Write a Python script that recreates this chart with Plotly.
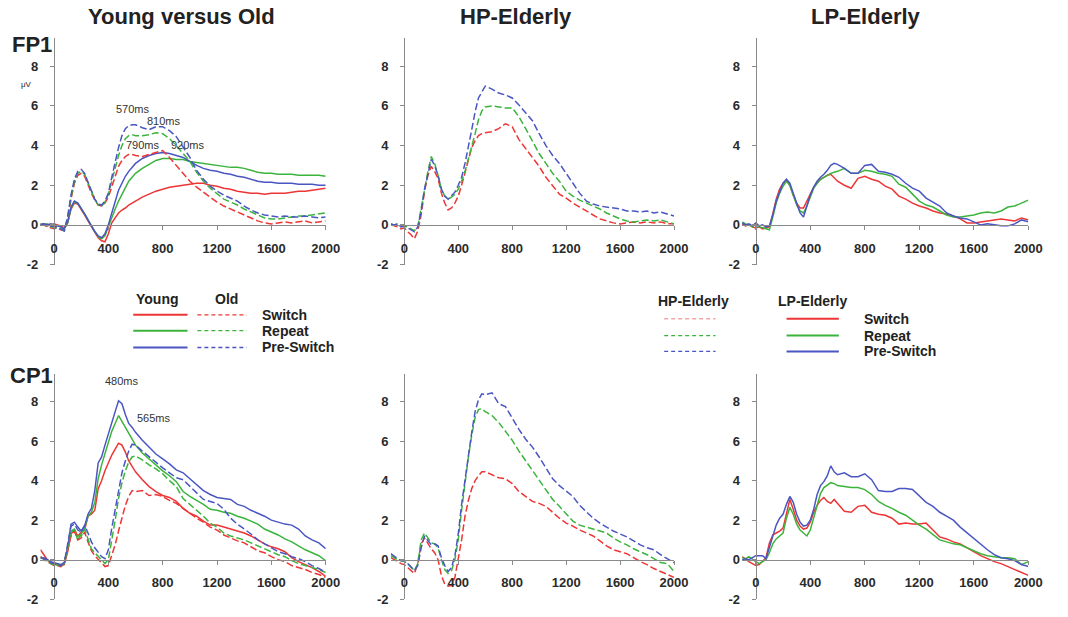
import plotly.graph_objects as go

# ---------------- data ----------------
T = [-100, -75, -50, -25, 0, 25, 50, 75, 100, 125, 150, 175, 200, 225, 250, 275, 300, 325, 350, 375,
     400, 425, 450, 475, 500, 525, 550, 575, 600,
     650, 700, 750, 800, 850, 900, 950, 1000, 1050, 1100, 1150, 1200, 1250, 1300, 1350, 1400, 1450,
     1500, 1550, 1600, 1650, 1700, 1750, 1800, 1850, 1900, 1950, 2000]

# FP1 - Young (solid) vs Old (dashed)
fp1_young_switch = [0.05, 0.0, -0.05, 0.0, 0.05, 0.0, -0.05, -0.15, 0.1, 0.8, 1.1, 1.05, 0.8, 0.5, 0.2, -0.1, -0.4, -0.65, -0.8, -0.85, -0.45, 0.1, 0.35, 0.6, 0.75, 0.85, 1.0, 1.1, 1.2,
                    1.4, 1.55, 1.7, 1.8, 1.9, 1.95, 2.0, 2.05, 2.1, 2.1, 2.0, 1.95, 1.85, 1.8, 1.7, 1.65, 1.6, 1.6, 1.55, 1.6, 1.6, 1.6, 1.65, 1.7, 1.7, 1.75, 1.8, 1.85]
fp1_young_repeat = [0.05, 0.0, 0.05, -0.05, 0.0, -0.05, -0.1, -0.2, 0.1, 0.85, 1.15, 1.1, 0.85, 0.55, 0.25, -0.05, -0.35, -0.6, -0.7, -0.55, -0.1, 0.4, 0.8, 1.2, 1.55, 1.9, 2.2, 2.4, 2.6,
                    2.85, 3.05, 3.25, 3.35, 3.35, 3.3, 3.3, 3.2, 3.15, 3.1, 3.05, 3.0, 2.95, 2.9, 2.9, 2.85, 2.75, 2.65, 2.6, 2.6, 2.55, 2.55, 2.55, 2.5, 2.5, 2.5, 2.5, 2.45]
fp1_young_pre = [0.0, 0.05, 0.0, 0.05, 0.0, -0.05, -0.1, -0.2, 0.15, 0.9, 1.2, 1.1, 0.85, 0.55, 0.25, -0.05, -0.35, -0.55, -0.65, -0.45, 0.0, 0.6, 1.2, 1.75, 2.1, 2.45, 2.7, 2.9, 3.1,
                 3.35, 3.5, 3.6, 3.65, 3.6, 3.5, 3.4, 3.2, 3.0, 2.85, 2.75, 2.7, 2.6, 2.55, 2.45, 2.4, 2.3, 2.2, 2.15, 2.15, 2.1, 2.1, 2.1, 2.05, 2.05, 2.05, 2.0, 2.0]
fp1_old_switch = [0.05, 0.0, -0.1, -0.15, -0.2, -0.15, -0.25, -0.3, 0.3, 1.3, 2.1, 2.5, 2.6, 2.45, 2.0, 1.6, 1.25, 1.0, 0.95, 1.1, 1.4, 1.95, 2.5, 2.95, 3.25, 3.45, 3.55, 3.55, 3.5,
                  3.45, 3.55, 3.65, 3.75, 3.4, 3.0, 2.6, 2.2, 1.9, 1.65, 1.4, 1.15, 0.95, 0.8, 0.65, 0.5, 0.35, 0.2, 0.1, 0.05, 0.1, 0.15, 0.1, 0.15, 0.2, 0.1, 0.15, 0.2]
fp1_old_repeat = [0.05, 0.0, -0.05, -0.1, -0.1, -0.15, -0.2, -0.3, 0.35, 1.4, 2.2, 2.6, 2.7, 2.55, 2.1, 1.65, 1.3, 1.0, 0.95, 1.15, 1.55, 2.2, 2.9, 3.5, 4.0, 4.35, 4.5, 4.55, 4.5,
                  4.5, 4.55, 4.65, 4.6, 4.35, 4.0, 3.6, 3.2, 2.65, 2.2, 1.85, 1.55, 1.3, 1.15, 1.0, 0.8, 0.65, 0.5, 0.35, 0.3, 0.3, 0.35, 0.4, 0.45, 0.45, 0.5, 0.55, 0.6]
fp1_old_pre = [0.0, 0.05, 0.0, -0.05, -0.1, -0.1, -0.2, -0.3, 0.4, 1.5, 2.3, 2.7, 2.8, 2.6, 2.15, 1.7, 1.3, 1.05, 1.0, 1.2, 1.6, 2.4, 3.2, 3.9, 4.5, 4.85, 5.0, 5.05, 5.05,
               4.9, 4.8, 4.95, 4.95, 4.75, 4.45, 3.9, 3.4, 2.75, 2.3, 1.95, 1.7, 1.5, 1.35, 1.2, 0.95, 0.75, 0.6, 0.5, 0.45, 0.4, 0.45, 0.4, 0.4, 0.45, 0.4, 0.35, 0.4]

# FP1 - HP-Elderly (dashed)
fp1_hp_switch = [0.0, -0.05, -0.1, -0.2, -0.15, -0.35, -0.5, -0.7, -0.3, 0.5, 1.7, 2.5, 2.95, 2.7, 2.35, 1.6, 1.1, 0.75, 0.85, 1.1, 1.45, 2.0, 2.6, 3.3, 3.9, 4.25, 4.5, 4.6, 4.65,
                 4.7, 4.85, 5.1, 4.95, 4.3, 3.85, 3.4, 2.95, 2.4, 2.0, 1.55, 1.35, 1.1, 0.9, 0.7, 0.5, 0.3, 0.2, 0.1, 0.05, 0.1, 0.15, 0.1, 0.15, 0.1, 0.15, 0.05, 0.05]
fp1_hp_repeat = [0.05, 0.0, 0.05, 0.0, -0.05, -0.1, -0.2, -0.3, -0.1, 0.8, 1.9, 2.7, 3.45, 3.1, 2.5, 1.8, 1.45, 1.3, 1.4, 1.55, 1.8, 2.2, 2.7, 3.3, 3.9, 4.6, 5.3, 5.75, 5.95,
                 6.0, 5.95, 5.9, 5.9, 5.45, 4.85, 4.25, 3.6, 3.1, 2.6, 2.2, 1.7, 1.45, 1.25, 1.1, 0.95, 0.8, 0.6, 0.45, 0.3, 0.2, 0.15, 0.2, 0.25, 0.2, 0.25, 0.15, 0.05]
fp1_hp_pre = [0.05, 0.0, 0.05, -0.1, -0.05, -0.15, -0.25, -0.35, -0.1, 0.7, 1.8, 2.6, 3.3, 3.0, 2.5, 1.8, 1.45, 1.3, 1.45, 1.65, 2.0, 2.4, 3.1, 3.9, 4.8, 5.7, 6.4, 6.7, 7.0,
              6.85, 6.65, 6.55, 6.4, 6.05, 5.65, 5.25, 4.6, 4.0, 3.5, 3.1, 2.6, 2.1, 1.6, 1.2, 1.05, 0.95, 0.9, 0.85, 0.8, 0.7, 0.7, 0.65, 0.7, 0.6, 0.65, 0.55, 0.45]

# FP1 - LP-Elderly (solid)
fp1_lp_switch = [0.05, -0.05, 0.0, -0.1, -0.15, -0.1, -0.2, -0.15, -0.1, 0.55, 1.3, 1.8, 2.1, 2.25, 2.0, 1.5, 1.1, 0.85, 0.85, 1.2, 1.55, 1.9, 2.1, 2.3, 2.4, 2.5, 2.55, 2.4, 2.2,
                 2.0, 1.85, 2.35, 2.45, 2.3, 2.2, 1.95, 1.8, 1.45, 1.3, 1.1, 0.95, 0.85, 0.7, 0.6, 0.55, 0.45, 0.3, 0.1, 0.1, 0.15, 0.2, 0.25, 0.3, 0.25, 0.2, 0.35, 0.25]
fp1_lp_repeat = [0.15, 0.05, 0.0, -0.1, 0.05, -0.1, -0.15, -0.2, -0.25, 0.4, 1.1, 1.6, 1.95, 2.2, 2.0, 1.5, 1.0, 0.7, 0.6, 0.95, 1.45, 1.85, 2.1, 2.3, 2.4, 2.5, 2.6, 2.65, 2.7,
                 2.85, 2.6, 2.6, 2.75, 2.7, 2.6, 2.55, 2.45, 2.05, 1.9, 1.55, 1.2, 1.0, 0.9, 0.7, 0.5, 0.4, 0.4, 0.45, 0.5, 0.6, 0.65, 0.6, 0.7, 0.9, 0.95, 1.1, 1.25]
fp1_lp_pre = [0.1, 0.0, 0.05, -0.05, 0.1, -0.05, 0.0, -0.1, -0.05, 0.5, 1.2, 1.7, 2.1, 2.3, 2.1, 1.6, 1.1, 0.6, 0.4, 1.0, 1.5, 1.9, 2.2, 2.4, 2.55, 2.75, 3.0, 3.1, 3.05,
              2.85, 2.6, 2.6, 3.0, 3.05, 2.7, 2.65, 2.55, 2.4, 2.1, 1.85, 1.7, 1.35, 1.15, 0.95, 0.6, 0.45, 0.35, 0.3, 0.15, 0.0, 0.05, 0.0, -0.05, -0.05, 0.05, 0.25, 0.15]

# CP1 - Young (solid) vs Old (dashed)
cp1_young_switch = [0.5, 0.25, 0.0, -0.15, -0.2, -0.25, -0.3, -0.25, 0.4, 1.3, 1.5, 1.2, 1.4, 1.5, 2.2, 2.3, 2.5, 3.6, 4.0, 4.5, 4.9, 5.3, 5.6, 5.9, 5.8, 5.45, 5.0, 4.7, 4.45,
                    4.05, 3.7, 3.45, 3.25, 3.15, 2.95, 2.6, 2.35, 2.2, 1.95, 1.75, 1.75, 1.65, 1.55, 1.45, 1.35, 1.2, 1.0, 0.8, 0.65, 0.55, 0.4, 0.1, -0.1, -0.25, -0.4, -0.6, -0.85]
cp1_young_repeat = [0.15, 0.05, -0.05, -0.1, -0.2, -0.3, -0.3, -0.2, 0.5, 1.4, 1.5, 1.0, 1.3, 1.6, 2.2, 2.4, 2.9, 4.1, 4.8, 5.4, 6.0, 6.5, 6.9, 7.3, 7.0, 6.7, 6.35, 6.05, 5.8,
                    5.4, 5.1, 4.75, 4.5, 4.25, 3.95, 3.45, 3.2, 3.0, 2.8, 2.55, 2.5, 2.4, 2.35, 2.2, 2.1, 1.95, 1.8, 1.55, 1.4, 1.25, 1.05, 0.9, 0.7, 0.5, 0.35, 0.2, -0.05]
cp1_young_pre = [0.1, 0.1, 0.0, -0.1, -0.15, -0.2, -0.25, -0.15, 0.6, 1.8, 1.9, 1.65, 1.45, 1.7, 2.3, 2.6, 3.5, 4.9, 5.2, 5.8, 6.4, 7.0, 7.5, 8.05, 7.9, 7.35, 6.9, 6.7, 6.45,
                 6.05, 5.7, 5.35, 5.1, 4.85, 4.55, 4.4, 4.1, 3.8, 3.5, 3.3, 3.15, 3.1, 3.05, 2.8, 2.7, 2.5, 2.35, 2.2, 2.0, 1.9, 1.8, 1.75, 1.55, 1.2, 1.0, 0.85, 0.55]
cp1_old_switch = [0.15, 0.0, -0.1, -0.2, -0.3, -0.3, -0.35, -0.2, 0.5, 1.2, 1.45, 1.0, 1.1, 1.4, 0.9, 0.45, 0.2, 0.0, -0.2, -0.35, -0.3, 0.2, 0.75, 1.45, 2.1, 2.75, 3.2, 3.5, 3.45,
                  3.5, 3.25, 3.3, 3.2, 3.0, 2.85, 2.6, 2.35, 2.1, 1.9, 1.65, 1.5, 1.25, 1.1, 0.95, 0.85, 0.65, 0.45, 0.35, 0.15, 0.0, -0.1, -0.3, -0.4, -0.5, -0.65, -0.75, -0.9]
cp1_old_repeat = [0.1, 0.05, -0.1, -0.2, -0.25, -0.3, -0.3, -0.2, 0.6, 1.45, 1.55, 1.2, 1.2, 1.55, 1.05, 0.55, 0.35, 0.15, -0.05, -0.2, 0.0, 0.9, 2.0, 3.1, 3.9, 4.5, 4.95, 5.2, 5.25,
                  5.05, 4.8, 4.6, 4.35, 4.0, 3.7, 3.1, 2.8, 2.55, 2.2, 1.85, 1.65, 1.35, 1.2, 1.1, 1.0, 0.85, 0.7, 0.55, 0.4, 0.25, 0.15, -0.05, -0.2, -0.3, -0.4, -0.5, -0.65]
cp1_old_pre = [0.1, 0.05, -0.05, -0.15, -0.2, -0.25, -0.3, -0.15, 0.7, 1.7, 1.8, 1.5, 1.4, 1.75, 1.35, 0.9, 0.6, 0.35, 0.15, 0.05, 0.5, 1.6, 2.6, 3.5, 4.4, 5.0, 5.5, 5.85, 5.8,
               5.5, 5.2, 4.9, 4.65, 4.4, 4.15, 4.05, 3.7, 3.4, 3.05, 2.95, 2.85, 2.55, 2.1, 1.8, 1.55, 1.3, 1.0, 0.8, 0.6, 0.4, 0.3, 0.15, 0.05, -0.1, -0.3, -0.45, -0.65]

# CP1 - HP-Elderly (dashed)
cp1_hp_switch = [0.1, 0.0, -0.1, -0.2, -0.25, -0.4, -0.55, -0.7, -0.2, 0.8, 1.1, 0.8, 0.55, 0.35, 0.0, -0.8, -1.25, -1.35, -1.3, -0.9, 0.0, 1.0, 2.2, 3.0, 3.6, 4.0, 4.25, 4.45, 4.45,
                 4.3, 4.15, 4.1, 3.85, 3.45, 3.2, 2.95, 2.85, 2.7, 2.4, 2.1, 1.85, 1.7, 1.5, 1.35, 1.2, 0.95, 0.7, 0.5, 0.4, 0.3, 0.1, -0.1, -0.25, -0.45, -0.6, -0.75, -0.9]
cp1_hp_repeat = [0.2, 0.1, 0.0, -0.05, -0.1, -0.2, -0.4, -0.55, -0.2, 1.0, 1.35, 1.1, 0.85, 0.8, 0.6, 0.0, -0.5, -0.7, -0.55, 0.0, 1.0, 2.5, 3.9, 5.2, 6.3, 7.2, 7.6, 7.65, 7.5,
                 7.3, 6.95, 6.5, 6.05, 5.5, 5.0, 4.55, 4.05, 3.5, 3.05, 2.7, 2.3, 1.95, 1.75, 1.65, 1.55, 1.45, 1.35, 1.1, 0.9, 0.75, 0.55, 0.4, 0.25, 0.05, -0.15, -0.2, -0.6]
cp1_hp_pre = [0.3, 0.15, 0.05, -0.05, -0.05, -0.2, -0.35, -0.55, -0.3, 0.6, 1.2, 0.95, 0.75, 0.8, 0.7, 0.1, -0.3, -0.6, -0.4, 0.2, 1.3, 2.8, 4.1, 5.4, 6.45, 7.5, 8.1, 8.4, 8.35,
              8.45, 7.9, 7.75, 7.15, 6.6, 6.1, 5.7, 5.2, 4.65, 4.1, 3.75, 3.45, 3.2, 2.75, 2.4, 2.1, 1.85, 1.65, 1.45, 1.3, 1.15, 0.95, 0.75, 0.6, 0.5, 0.25, 0.05, -0.15]

# CP1 - LP-Elderly (solid)
cp1_lp_switch = [0.15, 0.0, -0.1, -0.2, -0.3, -0.25, -0.1, 0.1, 0.85, 1.25, 1.35, 1.45, 1.6, 2.4, 3.05, 2.55, 2.0, 1.7, 1.55, 1.6, 1.9, 2.4, 2.75, 3.0, 3.15, 2.95, 2.85, 3.05, 2.85,
                 2.45, 2.4, 2.7, 2.75, 2.4, 2.3, 2.25, 2.1, 1.8, 1.85, 1.8, 1.8, 1.85, 1.5, 1.15, 1.05, 0.9, 0.8, 0.6, 0.4, 0.2, 0.05, -0.1, -0.2, -0.35, -0.5, -0.65, -0.8]
cp1_lp_repeat = [0.1, 0.05, 0.15, 0.0, -0.1, -0.2, -0.1, 0.0, 0.35, 0.8, 1.05, 1.2, 1.35, 2.1, 2.65, 2.3, 1.8, 1.5, 1.35, 1.2, 1.5, 2.1, 2.8, 3.35, 3.65, 3.8, 3.9, 3.85, 3.75,
                 3.7, 3.65, 3.65, 3.55, 3.3, 2.95, 2.75, 2.6, 2.4, 2.25, 2.0, 1.75, 1.55, 1.25, 1.0, 0.9, 0.8, 0.75, 0.6, 0.45, 0.3, 0.2, 0.15, 0.1, 0.1, 0.05, -0.25, -0.1]
cp1_lp_pre = [0.0, 0.05, 0.0, 0.1, 0.2, 0.2, 0.2, 0.05, 0.6, 1.2, 1.75, 2.1, 2.3, 2.8, 3.2, 2.9, 2.3, 1.9, 1.7, 1.75, 2.0, 2.55, 3.3, 3.75, 3.95, 4.25, 4.75, 4.45, 4.3,
              4.4, 4.2, 4.2, 4.35, 4.05, 3.5, 3.45, 3.45, 3.6, 3.6, 3.55, 3.2, 2.9, 2.7, 2.4, 2.2, 2.0, 1.65, 1.35, 1.05, 0.78, 0.5, 0.25, 0.1, 0.05, -0.05, -0.25, -0.35]

X_TICKS = [0, 400, 800, 1200, 1600, 2000]
Y_TICKS = [-2, 0, 2, 4, 6, 8]
X_RANGE = [-100, 2000]
Y_RANGE = [-2, 9.4]

COL_TITLES = ["Young versus Old", "HP-Elderly", "LP-Elderly"]
ROW_TITLES = ["FP1", "CP1"]
CONDITIONS = ["Switch", "Repeat", "Pre-Switch"]

RED, GREEN, BLUE = "#ee3535", "#3cb43c", "#4a56c2"
COLORS = [RED, GREEN, BLUE]
DASH = "7px,3px"

panels = [
    [(fp1_young_switch, RED, False), (fp1_young_repeat, GREEN, False), (fp1_young_pre, BLUE, False),
     (fp1_old_switch, RED, True), (fp1_old_repeat, GREEN, True), (fp1_old_pre, BLUE, True)],
    [(fp1_hp_switch, RED, True), (fp1_hp_repeat, GREEN, True), (fp1_hp_pre, BLUE, True)],
    [(fp1_lp_switch, RED, False), (fp1_lp_repeat, GREEN, False), (fp1_lp_pre, BLUE, False)],
    [(cp1_young_switch, RED, False), (cp1_young_repeat, GREEN, False), (cp1_young_pre, BLUE, False),
     (cp1_old_switch, RED, True), (cp1_old_repeat, GREEN, True), (cp1_old_pre, BLUE, True)],
    [(cp1_hp_switch, RED, True), (cp1_hp_repeat, GREEN, True), (cp1_hp_pre, BLUE, True)],
    [(cp1_lp_switch, RED, False), (cp1_lp_repeat, GREEN, False), (cp1_lp_pre, BLUE, False)],
]

W, H = 1068, 617
FONT = "Liberation Sans, Arial, sans-serif"


def px(x):
    return x / W


def py(y):
    return 1 - y / H


X_DOMAINS = [[px(41), px(330)], [px(396), px(683)], [px(752), px(1042)]]
Y_DOMAINS = [[py(268), py(39)], [py(607), py(379)]]

fig = go.Figure()
layout = dict(
    width=W, height=H, margin=dict(l=0, r=0, t=0, b=0),
    paper_bgcolor="white", plot_bgcolor="white", showlegend=False,
    font=dict(family=FONT, color="#222"),
)

for k, series in enumerate(panels):
    idx = k + 1
    col, row = k % 3, k // 3
    xd, yd = X_DOMAINS[col], Y_DOMAINS[row]
    sfx = "" if idx == 1 else str(idx)
    for vals, color, dashed in series:
        assert len(vals) == len(T), (idx, len(vals))
        fig.add_trace(go.Scatter(
            x=T, y=vals, mode="lines", xaxis="x" + sfx, yaxis="y" + sfx,
            line=dict(color=color, width=1.5, dash=DASH if dashed else "solid"),
            hoverinfo="skip"))
    x_zero_pos = yd[0] + (0 - Y_RANGE[0]) / (Y_RANGE[1] - Y_RANGE[0]) * (yd[1] - yd[0])
    y_zero_pos = xd[0] + (0 - X_RANGE[0]) / (X_RANGE[1] - X_RANGE[0]) * (xd[1] - xd[0])
    tickfont = dict(family=FONT, size=13, color="#2a2a2a", weight="bold")
    layout["xaxis" + sfx] = dict(
        domain=xd, range=X_RANGE, anchor="free", position=x_zero_pos,
        showline=True, linecolor="#8a8a8a", linewidth=1.3, showgrid=False, zeroline=False,
        ticks="outside", ticklen=4, tickcolor="#8a8a8a", tickwidth=1,
        tickvals=X_TICKS, ticktext=[str(v) for v in X_TICKS], tickfont=tickfont,
        ticklabelstandoff=7)
    layout["yaxis" + sfx] = dict(
        domain=yd, range=Y_RANGE, anchor="free", position=y_zero_pos,
        showline=True, linecolor="#8a8a8a", linewidth=1.3, showgrid=False, zeroline=False,
        ticks="outside", ticklen=4, tickcolor="#8a8a8a", tickwidth=1,
        tickvals=Y_TICKS, ticktext=[str(v) for v in Y_TICKS], tickfont=tickfont,
        ticklabelstandoff=9)

annotations = []
shapes = []


def text(x, y, s, size=13, bold=True, xanchor="center", color="#222"):
    annotations.append(dict(
        x=px(x), y=py(y), xref="paper", yref="paper", text=s, showarrow=False,
        xanchor=xanchor, yanchor="middle",
        font=dict(family=FONT, size=size, color=color, weight="bold" if bold else "normal")))


# column and row titles
for cx, t in zip([184, 523, 877], COL_TITLES):
    text(cx, 17, t, size=22)
text(10, 45, ROW_TITLES[0], size=22, xanchor="left")
text(8, 380, ROW_TITLES[1], size=22, xanchor="left")
text(27, 86, "μV", size=8, bold=False)

# peak latency labels
for (x, y, s) in [(135, 110, "570ms"), (166, 123, "810ms"), (145, 147, "790ms"), (191, 147, "920ms"),
                  (124, 386, "480ms"), (156, 423, "565ms")]:
    text(x, y, s, size=11, bold=False, color="#333")

# left legend (Young solid / Old dashed)
text(160, 303, "Young", size=14)
text(230, 303, "Old", size=14)
for i, (yy, c) in enumerate(zip([319, 335, 352], COLORS)):
    shapes.append(dict(type="line", xref="paper", yref="paper", x0=px(135), x1=px(190), y0=py(yy), y1=py(yy),
                       line=dict(color=c, width=2)))
    shapes.append(dict(type="line", xref="paper", yref="paper", x0=px(200), x1=px(250), y0=py(yy), y1=py(yy),
                       line=dict(color=c, width=1.4, dash="4px,3px")))
    text(263, yy, CONDITIONS[i], size=14, xanchor="left")

# right legend (HP dashed / LP solid)
text(703, 305, "HP-Elderly", size=14)
text(823, 305, "LP-Elderly", size=14)
HP_LEG = ["#f3a5a5", GREEN, BLUE]
for i, (yy, c) in enumerate(zip([323, 340, 356], COLORS)):
    shapes.append(dict(type="line", xref="paper", yref="paper", x0=px(673), x1=px(725), y0=py(yy), y1=py(yy),
                       line=dict(color=HP_LEG[i], width=1.4, dash="4px,3px")))
    shapes.append(dict(type="line", xref="paper", yref="paper", x0=px(797), x1=px(850), y0=py(yy), y1=py(yy),
                       line=dict(color=c, width=2)))
    text(873, yy, CONDITIONS[i], size=14, xanchor="left")

layout["annotations"] = annotations
layout["shapes"] = shapes
fig.update_layout(**layout)
fig.write_html("out.html")
